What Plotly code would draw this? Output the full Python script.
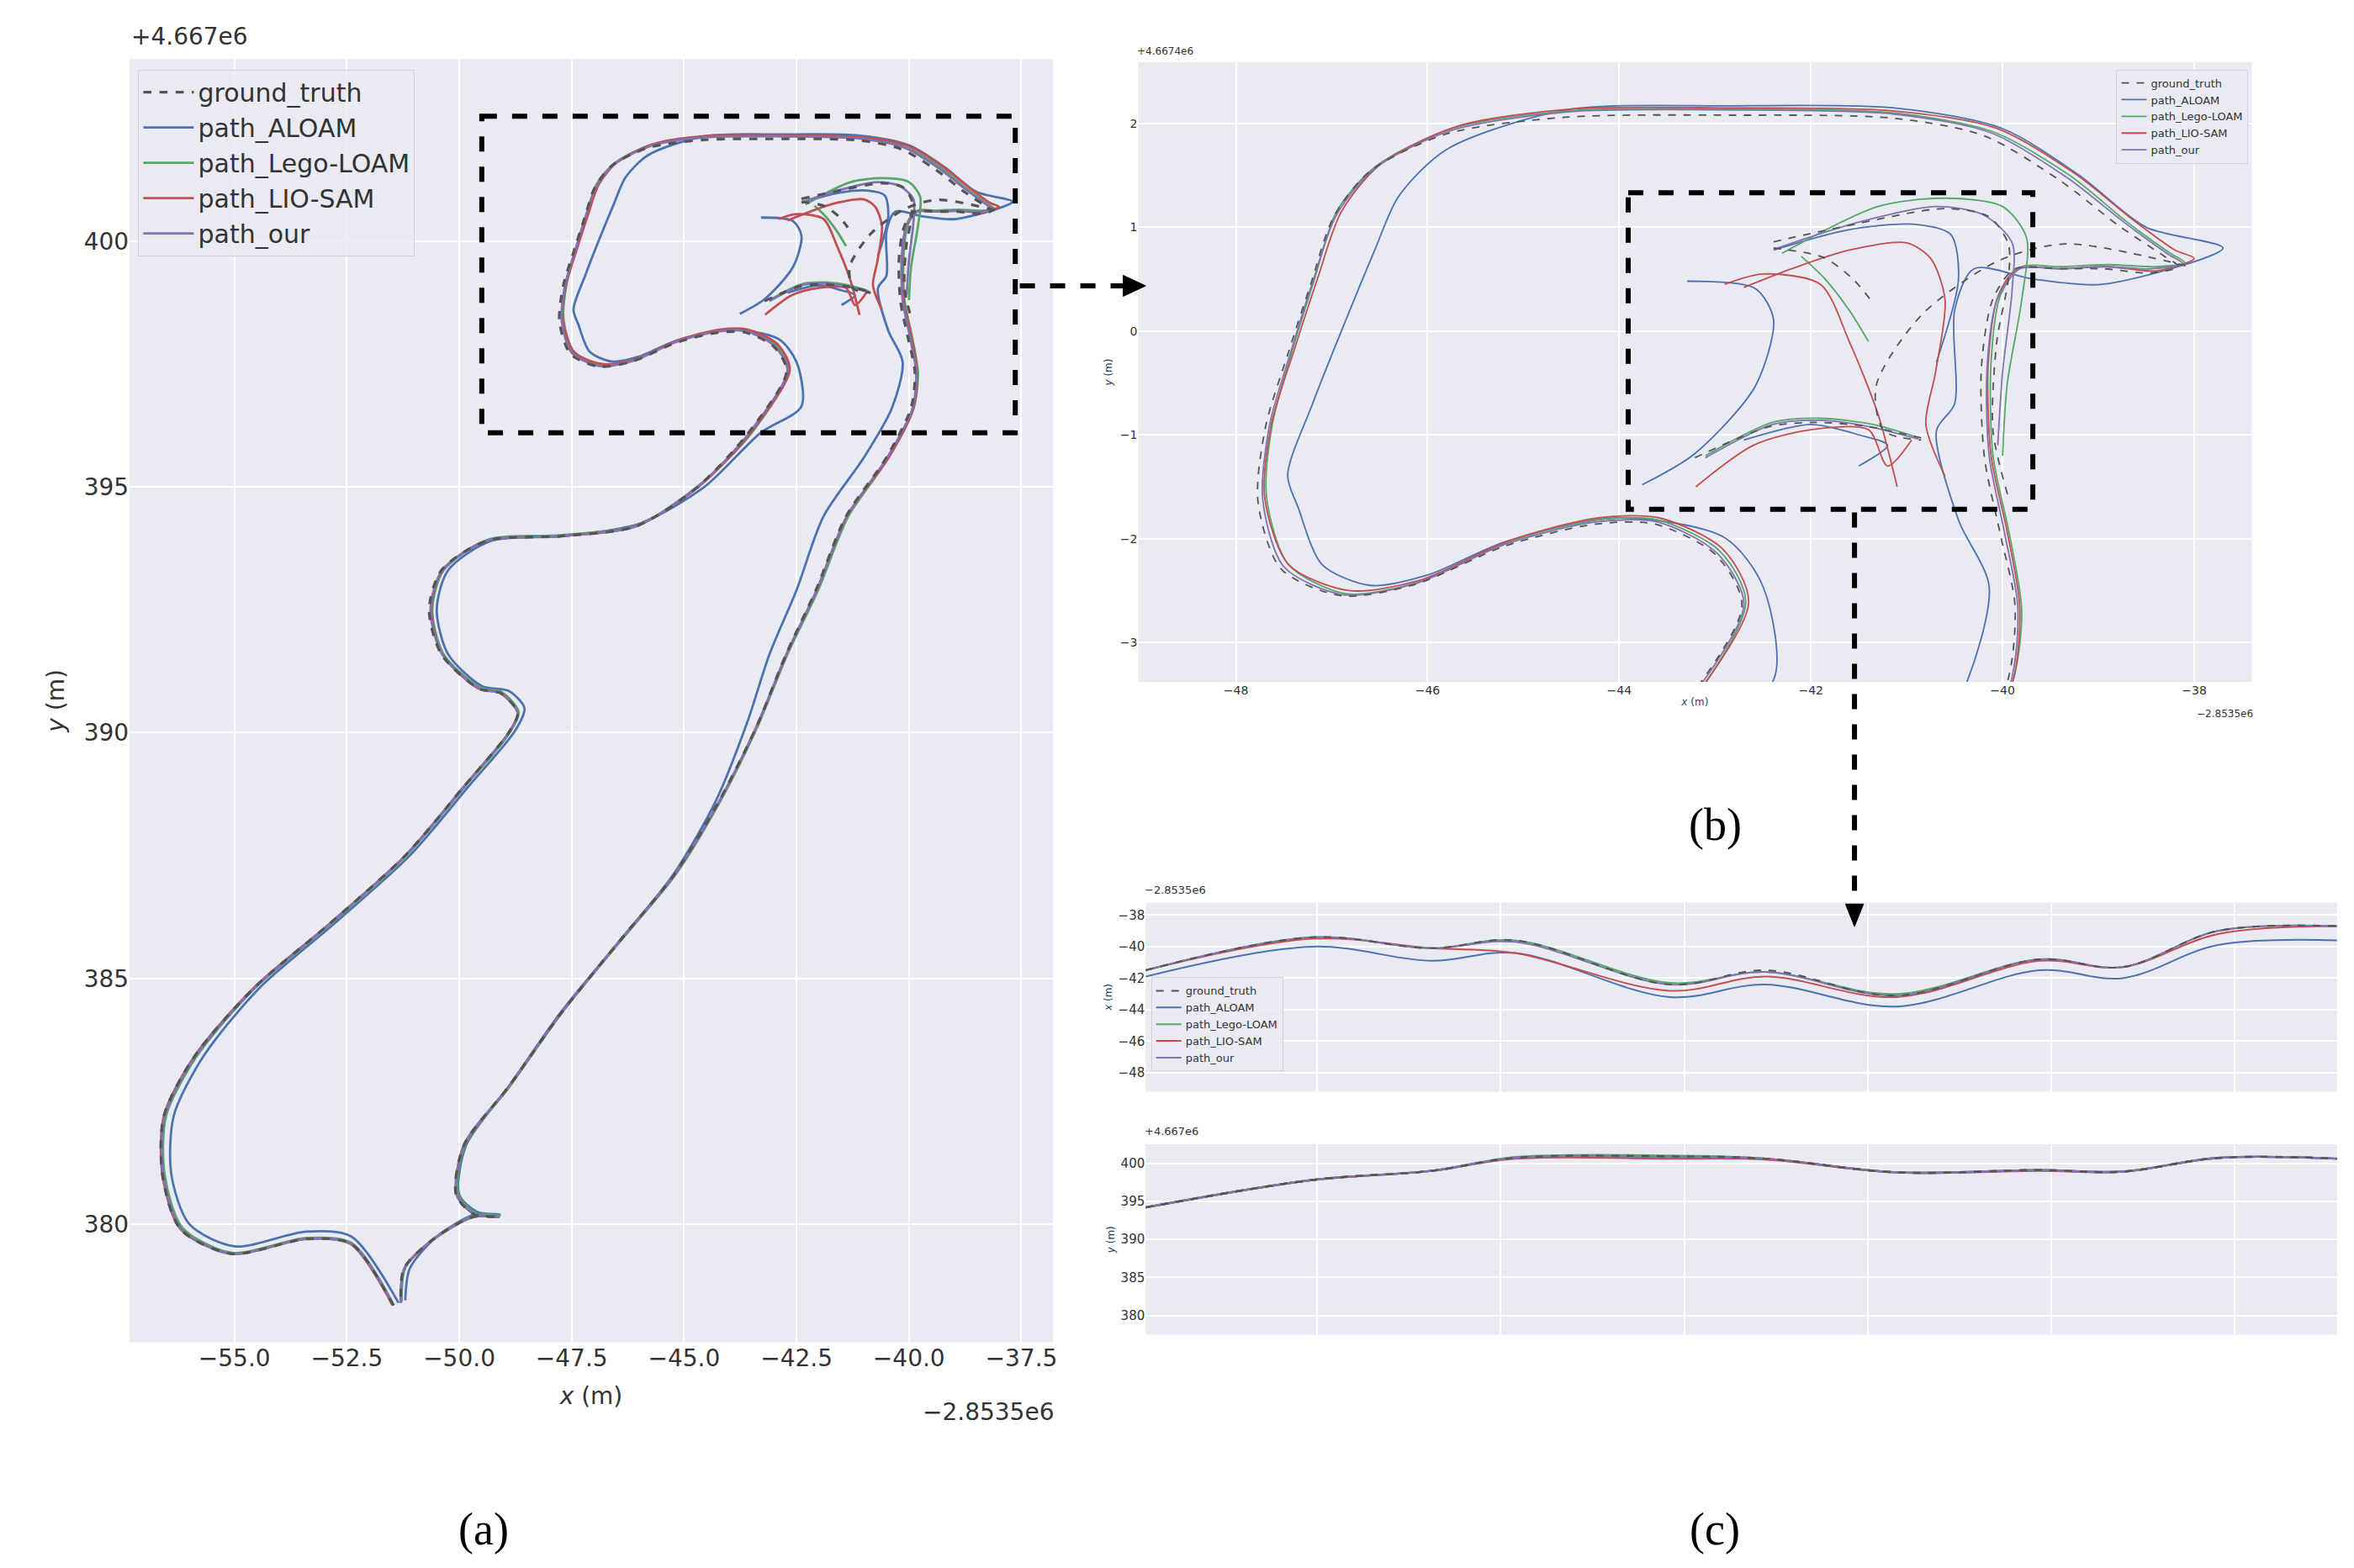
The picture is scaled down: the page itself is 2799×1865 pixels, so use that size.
import plotly.graph_objects as go

# ---------------- data (x offset from -2853500, y offset from 4667000) ----------------
gt_x = [-51.47,-52.4,-53.4,-55.07,-56.2,-56.6,-56.57,-55.9,-54.57,-52.9,-51.2,-49.9,-48.9,-48.7,-49.07,-49.57,-50.4,-50.67,-50.4,-49.4,-47.73,-46.07,-44.7,-43.57,
        -42.72,-43.0,-43.63,-44.25,-45.19,-46.13,-46.9,-47.53,-47.77,-47.69,-47.45,-47.22,-46.98,-46.6,-45.8,-44.56,-42.84,-41.13,-40.19,-39.4,-38.78,-38.31,-38.16,-38.47,-38.94,-39.4,-39.87,-40.1,-40.22,-40.19,-40.03,-39.87,-39.95,
        -40.5,-41.4,-42.07,-42.73,-43.4,-44.23,-45.23,-46.4,-47.73,-48.9,-49.9,-50.07,-49.67,-49.13,-49.7,-50.57,-51.23,-51.3,
        None,-42.39,-41.64,-40.61,-40.14,-39.94,-39.94,-40.06,-40.1,-39.94,
        None,-38.09,-39.35,-40.06,-40.85,-41.32,-41.24,-40.85,
        None,-42.39,-41.87,-41.56,-41.36,
        None,-43.21,-42.43,-41.95,-41.4,-40.85]
gt_y = [378.35,379.6,379.7,379.4,379.9,381.0,382.2,383.4,384.8,386.1,387.5,388.9,390.0,390.4,390.8,390.9,391.6,392.5,393.3,393.9,394.0,394.2,395.0,396.1,
        397.35,397.85,398.14,398.14,397.93,397.56,397.45,397.71,398.36,399.08,399.8,400.45,401.1,401.54,401.9,402.06,402.08,402.05,401.88,401.45,401.01,400.72,400.62,400.56,400.6,400.6,400.6,400.31,399.66,398.79,398.07,397.35,396.62,
        395.6,394.4,392.9,391.6,390.1,388.6,387.1,385.8,384.3,382.8,381.6,380.6,380.2,380.15,380.15,379.7,379.1,378.4,
        None,400.86,401.01,401.18,401.1,400.84,400.5,399.9,399.04,398.4,
        None,400.63,400.84,400.67,400.15,399.47,399.04,398.95,
        None,400.8,400.71,400.5,400.28,
        None,398.78,399.08,399.12,399.08,398.97]

aloam_x = [-51.35,-52.4,-53.4,-55.0,-56.0,-56.4,-56.35,-55.7,-54.45,-52.8,-51.1,-49.8,-48.75,-48.55,-48.9,-49.5,-50.25,-50.5,-50.25,-49.3,-47.7,-46.0,-44.55,-43.3,
           -42.39,-42.5,-42.9,-44.0,-45.19,-46.0,-46.6,-47.1,-47.35,-47.46,-47.2,-46.56,-46.3,-45.8,-44.56,-42.84,-41.13,-40.0,-39.2,-38.5,-37.7,-38.96,-39.67,-40.3,-40.5,-40.5,-40.69,-40.46,-40.14,-40.38,
           -41.0,-41.9,-42.5,-43.1,-43.6,-44.3,-45.25,-46.4,-47.75,-48.9,-49.85,-50.0,-49.6,-49.1,-49.65,-50.5,-51.1,-51.2,
           None,-43.29,-42.58,-42.39,-42.58,-43.21,-43.76,
           None,-42.39,-41.64,-40.93,-40.54,-40.46,-40.69,
           None,-42.7,-42.0,-41.5,-41.2,-41.5]
aloam_y = [378.4,379.75,379.85,379.55,380.0,381.0,382.2,383.4,384.8,386.1,387.5,388.9,390.05,390.5,390.85,390.95,391.6,392.5,393.3,393.9,394.0,394.25,395.0,396.1,
           396.64,397.54,398.01,398.2,397.97,397.65,397.55,397.75,398.3,398.61,399.3,400.76,401.3,401.75,402.13,402.17,402.15,401.95,401.5,401.0,400.8,400.45,400.5,400.6,400.2,399.3,399.04,398.18,397.54,396.6,
           395.6,394.4,392.9,391.6,390.2,388.6,387.1,385.8,384.3,382.8,381.6,380.6,380.25,380.2,380.2,379.75,379.1,378.45,
           None,400.48,400.41,400.11,399.47,398.82,398.52,
           None,400.78,400.97,401.03,400.93,400.5,399.7,
           None,398.95,399.1,399.0,398.9,398.7]

lego_x = [-51.45,-52.4,-53.4,-55.05,-56.15,-56.55,-56.52,-55.85,-54.55,-52.88,-51.18,-49.88,-48.88,-48.68,-49.05,-49.55,-50.35,-50.6,-50.35,-49.38,-47.72,-46.05,-44.68,-43.5,
          -42.68,-42.95,-43.6,-44.25,-45.19,-46.1,-46.85,-47.45,-47.68,-47.62,-47.4,-47.18,-46.95,-46.55,-45.75,-44.56,-42.84,-41.13,-40.1,-39.3,-38.7,-38.25,-38.1,-38.4,-38.9,-39.4,-39.8,-40.02,-40.12,-40.1,-39.93,-39.8,-39.9,
          -40.45,-41.35,-42.02,-42.7,-43.38,-44.2,-45.2,-46.38,-47.72,-48.88,-49.88,-50.02,-49.6,-49.1,-49.65,-50.55,-51.2,-51.28,
          None,-42.3,-41.3,-40.6,-40.0,-39.75,-39.8,-39.95,-40.0,
          None,-42.1,-41.85,-41.6,-41.4,
          None,-43.1,-42.4,-41.9,-41.35,-40.9]
lego_y = [378.35,379.62,379.72,379.42,379.92,381.0,382.2,383.4,384.8,386.1,387.5,388.9,390.0,390.42,390.82,390.92,391.6,392.5,393.3,393.92,394.02,394.22,395.02,396.1,
          397.38,397.88,398.18,398.18,397.96,397.58,397.47,397.75,398.4,399.1,399.85,400.5,401.15,401.58,401.95,402.12,402.14,402.1,401.92,401.5,401.05,400.75,400.66,400.62,400.64,400.62,400.62,400.35,399.7,398.8,398.05,397.3,396.6,
          395.6,394.4,392.9,391.6,390.1,388.6,387.1,385.8,384.3,382.8,381.6,380.6,380.2,380.18,380.18,379.72,379.12,378.42,
          None,400.75,401.2,401.28,401.2,400.9,400.3,399.5,398.8,
          None,400.72,400.5,400.2,399.9,
          None,398.8,399.12,399.16,399.1,398.98]

lio_x = [-51.48,-52.42,-53.42,-55.08,-56.2,-56.6,-56.57,-55.9,-54.58,-52.9,-51.2,-49.9,-48.9,-48.7,-49.08,-49.58,-50.38,-50.62,-50.38,-49.4,-47.73,-46.07,-44.68,-43.52,
         -42.65,-42.92,-43.58,-44.22,-45.15,-46.08,-46.82,-47.45,-47.7,-47.63,-47.38,-47.15,-46.9,-46.5,-45.7,-44.5,-42.84,-41.13,-40.05,-39.25,-38.65,-38.2,-38.0,-38.4,-38.9,-39.4,-39.85,-40.05,-40.15,-40.12,-39.95,-39.82,-39.9,
         -40.45,-41.38,-42.05,-42.72,-43.4,-44.22,-45.22,-46.4,-47.73,-48.9,-49.9,-50.05,-49.65,-49.12,-49.68,-50.56,-51.22,-51.3,
         None,-42.7,-42.2,-41.6,-41.0,-40.75,-40.6,-40.7,-40.8,-40.6,
         None,-42.9,-42.5,-41.9,-41.6,-41.3,-41.1,
         None,-43.2,-42.6,-42.0,-41.4,-41.2,-40.95]
lio_y = [378.35,379.6,379.7,379.4,379.9,381.0,382.2,383.4,384.8,386.1,387.5,388.9,390.0,390.4,390.8,390.9,391.6,392.5,393.3,393.9,394.0,394.2,395.0,396.1,
         397.38,397.9,398.2,398.2,397.98,397.6,397.5,397.75,398.4,399.1,399.85,400.5,401.15,401.6,401.97,402.14,402.15,402.12,401.95,401.52,401.08,400.78,400.7,400.58,400.62,400.6,400.6,400.33,399.68,398.8,398.06,397.33,396.6,
         395.6,394.4,392.9,391.6,390.1,388.6,387.1,385.8,384.3,382.8,381.6,380.6,380.2,380.15,380.15,379.7,379.1,378.4,
         None,400.42,400.6,400.78,400.85,400.7,400.3,399.6,399.1,398.6,
         None,400.45,400.55,400.45,399.9,399.2,398.5,
         None,398.5,398.9,399.05,399.05,398.7,398.95]

our_x = [-51.46,-52.4,-53.4,-55.06,-56.18,-56.58,-56.55,-55.88,-54.56,-52.9,-51.2,-49.9,-48.9,-48.7,-49.06,-49.56,-50.38,-50.64,-50.38,-49.4,-47.73,-46.07,-44.7,-43.55,
         -42.7,-42.98,-43.6,-44.25,-45.18,-46.12,-46.88,-47.5,-47.72,-47.65,-47.42,-47.2,-46.95,-46.56,-45.76,-44.56,-42.84,-41.13,-40.12,-39.33,-38.72,-38.27,-38.12,-38.45,-38.92,-39.4,-39.82,-40.05,-40.16,-40.14,-39.98,-39.84,-39.92,
         -40.48,-41.38,-42.05,-42.72,-43.4,-44.22,-45.22,-46.4,-47.73,-48.9,-49.9,-50.06,-49.66,-49.12,-49.7,-50.56,-51.22,-51.3,
         None,-42.35,-41.5,-40.7,-40.2,-39.9,-39.9,-40.0,-40.05,
         None,-43.1,-42.4,-41.9,-41.4,-40.88]
our_y = [378.35,379.6,379.7,379.4,379.9,381.0,382.2,383.4,384.8,386.1,387.5,388.9,390.0,390.4,390.8,390.9,391.6,392.5,393.3,393.9,394.0,394.2,395.0,396.1,
         397.36,397.86,398.16,398.16,397.95,397.57,397.46,397.73,398.38,399.09,399.82,400.47,401.12,401.56,401.93,402.11,402.13,402.09,401.91,401.48,401.04,400.74,400.65,400.6,400.62,400.6,400.6,400.32,399.67,398.8,398.06,397.33,396.6,
         395.6,394.4,392.9,391.6,390.1,388.6,387.1,385.8,384.3,382.8,381.6,380.6,380.2,380.15,380.15,379.7,379.1,378.4,
         None,400.8,401.05,401.2,401.12,400.85,400.4,399.6,398.9,
         None,398.78,399.1,399.14,399.08,398.96]

# panel (c): time series of x and y
t = [0, 14, 24, 31, 44, 52, 63, 75, 82, 90, 100]
cx_gt    = [-41.5,-39.4,-40.1,-39.6,-42.4,-41.5,-43.1,-40.8,-41.3,-39.0,-38.7]
cx_aloam = [-41.9,-40.0,-40.9,-40.4,-43.2,-42.4,-43.8,-41.5,-42.0,-39.9,-39.6]
cx_lego  = [-41.5,-39.4,-40.1,-39.6,-42.3,-41.6,-43.0,-40.8,-41.3,-39.0,-38.7]
cx_lio   = [-41.5,-39.5,-40.1,-40.4,-42.8,-41.9,-43.2,-40.9,-41.3,-39.2,-38.7]
cx_our   = [-41.5,-39.4,-40.1,-39.7,-42.4,-41.6,-43.1,-40.8,-41.3,-39.0,-38.7]
cy_gt    = [394.2,397.8,399.0,400.7,400.9,400.6,398.8,399.1,398.9,400.7,400.6]
cy_aloam = [394.2,397.8,399.0,400.7,400.9,400.6,398.8,399.1,398.9,400.7,400.6]
cy_lego  = [394.2,397.8,399.0,400.8,401.0,400.6,398.8,399.1,398.9,400.7,400.6]
cy_lio   = [394.2,397.8,399.0,400.6,400.6,400.5,398.8,399.0,398.9,400.7,400.6]
cy_our   = [394.2,397.8,399.0,400.7,400.8,400.6,398.8,399.1,398.9,400.7,400.6]

names = ["ground_truth","path_ALOAM","path_Lego-LOAM","path_LIO-SAM","path_our"]
colors = ["#555555","#4C72B0","#55A868","#C44E52","#8172B2"]
xs = [gt_x, aloam_x, lego_x, lio_x, our_x]
ys = [gt_y, aloam_y, lego_y, lio_y, our_y]
cxs = [cx_gt, cx_aloam, cx_lego, cx_lio, cx_our]
cys = [cy_gt, cy_aloam, cy_lego, cy_lio, cy_our]

fig = go.Figure()
order = [1,2,3,4,0]
for i in order:
    dash = "dash" if i == 0 else "solid"
    w = 3.2 if i == 0 else 2.8
    fig.add_trace(go.Scatter(x=xs[i], y=ys[i], mode="lines", name=names[i], legend="legend", legendrank=i,
                             line=dict(color=colors[i], width=w, dash=dash, shape="spline", smoothing=0.8),
                             xaxis="x", yaxis="y"))
    fig.add_trace(go.Scatter(x=xs[i], y=[None if v is None else v - 400 for v in ys[i]], mode="lines",
                             name=names[i], legend="legend2", legendrank=i,
                             line=dict(color=colors[i], width=1.8, dash=dash, shape="spline", smoothing=0.8),
                             xaxis="x2", yaxis="y2"))
    fig.add_trace(go.Scatter(x=t, y=cxs[i], mode="lines", name=names[i], legend="legend3", legendrank=i,
                             line=dict(color=colors[i], width=2, dash=dash, shape="spline"), xaxis="x3", yaxis="y3"))
    fig.add_trace(go.Scatter(x=t, y=cys[i], mode="lines", showlegend=False,
                             line=dict(color=colors[i], width=2.4, dash=dash, shape="spline"), xaxis="x4", yaxis="y4"))

BG = "#EAEAF2"
ax = dict(showgrid=True, gridcolor="white", gridwidth=2, zeroline=False, showline=False, ticks="")
fa = dict(family="DejaVu Sans", size=28, color="#333333")
fb = dict(family="DejaVu Sans", size=14, color="#333333")
fc = dict(family="DejaVu Sans", size=15, color="#333333")

def P(px, py):
    return px / 1568, 1 - py / 1045

fig.update_layout(
    width=2799, height=1865, margin=dict(l=0, r=0, t=0, b=0),
    paper_bgcolor="white", plot_bgcolor=BG, showlegend=True,
    xaxis=dict(**ax, domain=[0.0523, 0.4452], range=[-57.33, -36.8], tickvals=[-55,-52.5,-50,-47.5,-45,-42.5,-40,-37.5],
               ticktext=["\u221255.0","\u221252.5","\u221250.0","\u221247.5","\u221245.0","\u221242.5","\u221240.0","\u221237.5"],
               tickfont=fa, title=dict(text="<i>x</i> (m)", font=fa, standoff=18), anchor="y"),
    yaxis=dict(**ax, domain=[0.1483, 0.9665], range=[377.6, 403.7], tickvals=[380,385,390,395,400],
               tickfont=fa, title=dict(text="<i>y</i> (m)", font=fa, standoff=14), anchor="x"),
    xaxis2=dict(**ax, domain=[0.4815, 0.9554], range=[-49.02, -37.4], tickvals=[-48,-46,-44,-42,-40,-38],
                ticktext=["\u221248","\u221246","\u221244","\u221242","\u221240","\u221238"],
                tickfont=fb, title=dict(text="<i>x</i> (m)", font=dict(size=12, family="DejaVu Sans"), standoff=2), anchor="y2"),
    yaxis2=dict(**ax, domain=[0.5694, 0.9646], range=[-3.38, 2.59], tickvals=[-3,-2,-1,0,1,2],
                ticktext=["\u22123","\u22122","\u22121","0","1","2"],
                tickfont=fb, title=dict(text="<i>y</i> (m)", font=dict(size=12, family="DejaVu Sans"), standoff=6), anchor="x2"),
    xaxis3=dict(**ax, domain=[0.4847, 0.9917], range=[0, 100], tick0=14.4, dtick=15.4, showticklabels=False, anchor="y3"),
    yaxis3=dict(**ax, domain=[0.3081, 0.4287], range=[-49.2, -37.2], tickvals=[-38,-40,-42,-44,-46,-48],
                ticktext=["\u221238","\u221240","\u221242","\u221244","\u221246","\u221248"],
                tickfont=fc, title=dict(text="<i>x</i> (m)", font=dict(size=12, family="DejaVu Sans"), standoff=4), anchor="x3"),
    xaxis4=dict(**ax, domain=[0.4847, 0.9917], range=[0, 100], tick0=14.4, dtick=15.4, showticklabels=False, anchor="y4"),
    yaxis4=dict(**ax, domain=[0.1531, 0.2746], range=[377.5, 402.5], tickvals=[380,385,390,395,400],
                tickfont=fc, title=dict(text="<i>y</i> (m)", font=dict(size=12, family="DejaVu Sans"), standoff=4), anchor="x4"),
    legend=dict(x=0.056, y=0.96, xanchor="left", yanchor="top", bgcolor="rgba(234,234,242,0.85)",
                bordercolor="#D0D0D8", borderwidth=1, font=dict(family="DejaVu Sans", size=30, color="#333333"),
                tracegroupgap=0, itemwidth=60),
    legend2=dict(x=0.954, y=0.96, xanchor="right", yanchor="top", bgcolor="rgba(234,234,242,0.85)",
                 bordercolor="#D0D0D8", borderwidth=1, font=dict(family="DejaVu Sans", size=13, color="#333"), itemwidth=30),
    legend3=dict(x=0.487, y=0.381, xanchor="left", yanchor="top", bgcolor="rgba(234,234,242,0.85)",
                 bordercolor="#D0D0D8", borderwidth=1, font=dict(family="DejaVu Sans", size=13, color="#333"), itemwidth=30),
)

ann = []
def A(px, py, text, size, xa="left", ya="bottom", fam="DejaVu Sans", color="#333333"):
    x, y = P(px, py)
    ann.append(dict(x=x, y=y, xref="paper", yref="paper", text=text, showarrow=False, xanchor=xa, yanchor=ya,
                    font=dict(family=fam, size=size, color=color)))
A(82, 30, "+4.667e6", 28)
A(700, 926, "\u22122.8535e6", 28, xa="right", ya="top")
A(753, 35, "+4.6674e6", 12)
A(1500, 466, "\u22122.8535e6", 12, xa="right", ya="top")
A(758, 594, "\u22122.8535e6", 13)
A(758, 755, "+4.667e6", 13)
A(318, 1015, "(a)", 54, xa="center", ya="middle", fam="Liberation Serif", color="#000000")
A(1140, 545, "(b)", 54, xa="center", ya="middle", fam="Liberation Serif", color="#000000")
A(1140, 1015, "(c)", 54, xa="center", ya="middle", fam="Liberation Serif", color="#000000")
fig.update_layout(annotations=ann)

shapes = []
def rect(x0, y0, x1, y1):
    a0, b0 = P(x0, y0); a1, b1 = P(x1, y1)
    shapes.append(dict(type="rect", xref="paper", yref="paper", x0=a0, y0=b0, x1=a1, y1=b1,
                       line=dict(color="black", width=6, dash="dash")))
def seg(x0, y0, x1, y1):
    a0, b0 = P(x0, y0); a1, b1 = P(x1, y1)
    shapes.append(dict(type="line", xref="paper", yref="paper", x0=a0, y0=b0, x1=a1, y1=b1,
                       line=dict(color="black", width=6, dash="dash")))
def tri(pts):
    path = "M " + " L ".join(f"{P(px,py)[0]},{P(px,py)[1]}" for px, py in pts) + " Z"
    shapes.append(dict(type="path", xref="paper", yref="paper", path=path, fillcolor="black", line=dict(color="black", width=1)))
rect(317, 73, 673, 284)
rect(1082, 124, 1352, 335)
seg(676, 186, 745, 186)
tri([(760, 186), (745, 179), (745, 193)])
seg(1233, 337, 1233, 598)
tri([(1233, 613), (1227, 598), (1239, 598)])
fig.update_layout(shapes=shapes)

fig.write_html("out.html")
